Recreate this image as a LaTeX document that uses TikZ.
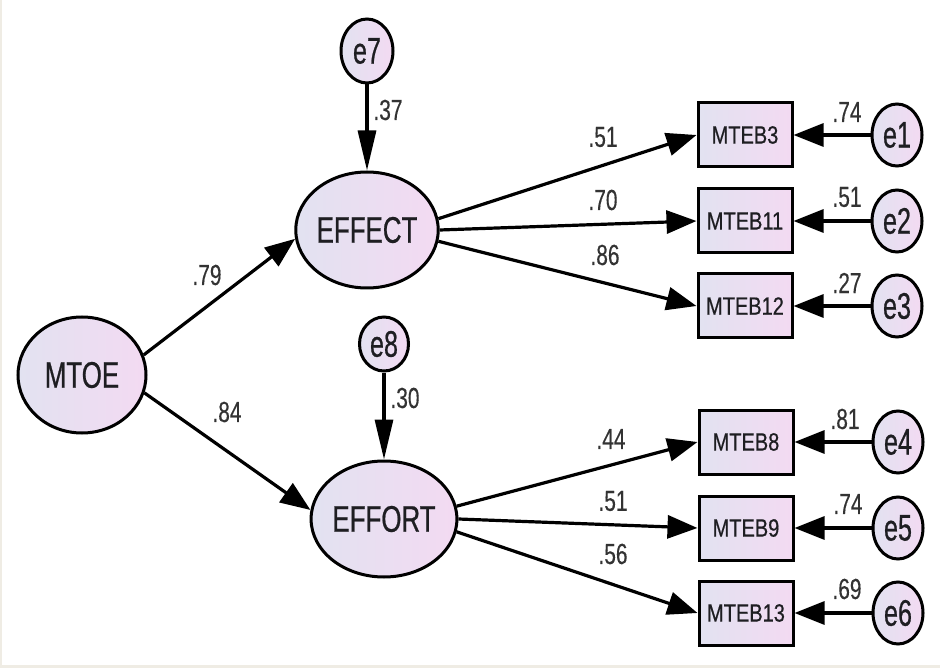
\documentclass[tikz,border=0pt]{standalone}
\usepackage{fontspec}
\setmainfont{Liberation Sans}
\newfontfamily\bigf[FakeStretch=0.70,FakeBold=0.6]{Liberation Sans}
\newfontfamily\errf[FakeStretch=0.68,FakeBold=0.6]{Liberation Sans}
\newfontfamily\boxf[FakeStretch=0.80,FakeBold=0.5]{Liberation Sans}
\newfontfamily\numf[FakeStretch=0.72,FakeBold=0.3]{Liberation Sans}
\usetikzlibrary{arrows.meta,shapes.geometric}
\definecolor{lavL}{HTML}{E2E2F1}
\definecolor{lavR}{HTML}{F3DAF2}
\definecolor{txt}{HTML}{1E1E22}
\definecolor{numc}{HTML}{333333}
\definecolor{edgebg}{HTML}{EFECE4}
\tikzset{
  latent/.style={ellipse, draw=black, line width=3pt, left color=lavL, right color=lavR,
    minimum width=128pt, minimum height=116pt, inner sep=0pt, text=txt,
    font=\bigf\fontsize{37}{40}\selectfont},
  errnode/.style={ellipse, draw=black, line width=3pt, left color=lavL, right color=lavR,
    minimum width=50pt, minimum height=62pt, inner sep=0pt, text=txt,
    font=\errf\fontsize{37}{40}\selectfont},
  obs/.style={rectangle, draw=black, line width=3pt, left color=lavL, right color=lavR,
    minimum width=94pt, minimum height=64pt, inner sep=0pt, text=txt,
    font=\boxf\fontsize{25}{28}\selectfont},
  num/.style={inner sep=0pt, text=numc, font=\numf\fontsize{29}{30}\selectfont},
  arr/.style={line width=3.2pt, -{Triangle[length=30pt,width=23pt]}},
  varr/.style={line width=3.2pt, -{Triangle[length=40pt,width=18pt]}}
}
\begin{document}
\begin{tikzpicture}[x=1pt,y=-1pt]
\fill[edgebg] (0,0) rectangle (940,668);
\fill[white] (2,0) rectangle (940,665);
\useasboundingbox (0,0) rectangle (940,668);

% latent variables
\node[latent] (MTOE) at (82,375) {MTOE};
\node[latent] (EFFECT) at (367,230) {EFFECT};
\node[latent] (EFFORT) at (384,519) {EFFORT};

% disturbances
\node[errnode, minimum width=52pt, minimum height=64pt] (e7) at (367,51) {e7};
\node[errnode, minimum width=49pt, minimum height=54pt] (e8) at (384,344) {e8};

% indicators
\node[obs] (MTEB3) at (745,135) {MTEB3};
\node[obs] (MTEB11) at (745,221) {MTEB11};
\node[obs] (MTEB12) at (745,306) {MTEB12};
\node[obs] (MTEB8) at (746,442) {MTEB8};
\node[obs] (MTEB9) at (746,528) {MTEB9};
\node[obs] (MTEB13) at (746,613) {MTEB13};

% errors
\node[errnode] (e1) at (897,135) {e1};
\node[errnode] (e2) at (897,221) {e2};
\node[errnode] (e3) at (897,306) {e3};
\node[errnode] (e4) at (898,442) {e4};
\node[errnode] (e5) at (898,528) {e5};
\node[errnode] (e6) at (898,613) {e6};

% structural paths
\draw[arr] (MTOE.18) -- (EFFECT.187);
\draw[arr] (MTOE.-16) -- (EFFORT.173);
\draw[varr] (e7) -- (EFFECT);
\draw[varr] (e8) -- (EFFORT);

% loadings
\draw[arr] (EFFECT.9) -- (MTEB3.west);
\draw[arr] (EFFECT.0) -- (MTEB11.west);
\draw[arr] (EFFECT.-9) -- (MTEB12.west);
\draw[arr] (EFFORT.10) -- (MTEB8.west);
\draw[arr] (EFFORT.0) -- (MTEB9.west);
\draw[arr] (EFFORT.-10) -- (MTEB13.west);

% measurement errors
\draw[arr] (e1) -- (MTEB3);
\draw[arr] (e2) -- (MTEB11);
\draw[arr] (e3) -- (MTEB12);
\draw[arr] (e4) -- (MTEB8);
\draw[arr] (e5) -- (MTEB9);
\draw[arr] (e6) -- (MTEB13);

% labels
\node[num] (l37) at (388,110) {.37};
\node[num] (l79) at (207,275) {.79};
\node[num] (l84) at (227,412) {.84};
\node[num] (l30) at (405,398) {.30};
\node[num] (l51a) at (603,137) {.51};
\node[num] (l70) at (603,200) {.70};
\node[num] (l86) at (605,255) {.86};
\node[num] (l74a) at (847,112) {.74};
\node[num] (l51b) at (847,197) {.51};
\node[num] (l27) at (847,283) {.27};
\node[num] (l44) at (611,439) {.44};
\node[num] (l51c) at (613,501) {.51};
\node[num] (l56) at (613,554) {.56};
\node[num] (l81) at (845,419) {.81};
\node[num] (l74b) at (848,504) {.74};
\node[num] (l69) at (847,589) {.69};
\end{tikzpicture}
\end{document}
